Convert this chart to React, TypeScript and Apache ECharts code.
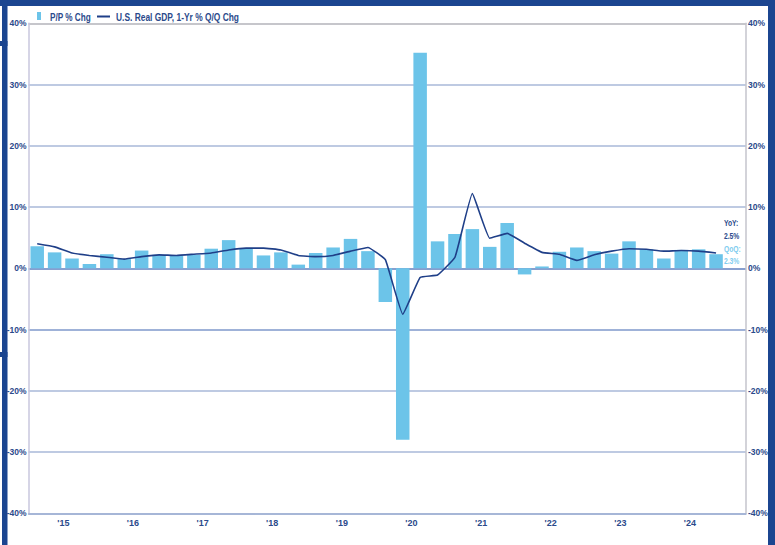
import React, { useEffect, useRef } from "react";
import * as echarts from "echarts";

const years = ["'15", "'16", "'17", "'18", "'19", "'20", "'21", "'22", "'23", "'24"];
const quarterNames = ["Q1", "Q2", "Q3", "Q4"];
const quarters: string[] = [];
for (let y = 2015; y <= 2024; y++) for (const q of quarterNames) quarters.push(`${q} ${y}`);

const qoqChg = [
  3.6, 2.6, 1.6, 0.7, 2.3, 1.5, 2.9, 2.2, 2.1, 2.2, 3.2, 4.6, 3.2, 2.1, 2.6, 0.6,
  2.5, 3.4, 4.8, 2.8, -5.5, -28.0, 35.2, 4.4, 5.6, 6.4, 3.5, 7.4, -1.0, 0.3, 2.7, 3.4,
  2.8, 2.4, 4.4, 3.1, 1.6, 3.0, 3.1, 2.3,
];
const yoyChg = [
  4.0, 3.5, 2.5, 2.1, 1.8, 1.5, 1.9, 2.2, 2.1, 2.3, 2.5, 3.0, 3.3, 3.3, 3.0, 2.1,
  1.9, 2.1, 2.8, 3.4, 1.4, -7.5, -1.5, -1.1, 1.8, 12.2, 4.9, 5.7, 4.1, 2.6, 2.3, 1.3,
  2.2, 2.8, 3.2, 3.1, 2.8, 2.9, 2.8, 2.5,
];
const yTicks = [-40, -30, -20, -10, 0, 10, 20, 30, 40];

const FONT = "'Liberation Sans Narrow', 'Arial Narrow', 'Liberation Sans', Arial, sans-serif";
const NAVY = "#2b4a8b";
const BAR = "#6cc4e9";
const LIGHT = "#7fcdef";
const LINE = "#1f3f88";
const FRAME = "#1b4590";

export default function App() {
  const ref = useRef<HTMLDivElement>(null);
  useEffect(() => {
    document.body.style.margin = "0";
    if (!ref.current) return;
    const chart = echarts.init(ref.current, undefined, { renderer: "svg" });
    const splitColors = yTicks.map((t) =>
      t === 40 ? "#b3b3ba" : t === 0 ? "#5f7fbf" : t === -10 ? "#7f98cb" : "#a9b8d9"
    );
    const lastYoY = yoyChg[yoyChg.length - 1];
    const lastQoQ = qoqChg[qoqChg.length - 1];
    const labelStyle = { color: NAVY, fontFamily: FONT, fontWeight: "bold" as const, fontSize: 8.5 };
    const barData = qoqChg.map((v, i) => ({ value: [i + 0.5, v], name: quarters[i] }));
    const lineData = yoyChg.map((v, i) => ({ value: [i + 0.5, v], name: quarters[i] }));
    const txt = (x: number, y: number, text: string, fill: string, size: number, sx: number) => ({
      type: "text",
      x,
      y,
      scaleX: sx,
      style: { text, fill, font: `bold ${size}px ${FONT}`, textVerticalAlign: "middle" },
      silent: true,
    });
    chart.setOption({
      animation: false,
      backgroundColor: "#ffffff",
      grid: { left: 28.5, right: 29, top: 23.3, bottom: 31.7, containLabel: false },
      xAxis: {
        type: "value",
        min: 0,
        max: 41.22,
        interval: 2,
        axisLine: { show: true, onZero: false, lineStyle: { color: "#9fb0d3", width: 1.5 } },
        axisTick: { show: false },
        splitLine: { show: false },
        axisLabel: {
          ...labelStyle,
          fontSize: 9,
          margin: 5,
          showMinLabel: true,
          showMaxLabel: true,
          formatter: (v: number) => (v % 4 === 2 && years[(v - 2) / 4] ? years[(v - 2) / 4] : ""),
        },
      },
      yAxis: [
        {
          type: "value",
          min: -40,
          max: 40,
          interval: 10,
          axisLine: { show: true, lineStyle: { color: "#c9c7de", width: 1.5 } },
          axisTick: { show: false },
          axisLabel: { ...labelStyle, margin: 2, formatter: "{value}%" },
          splitLine: { show: true, lineStyle: { color: splitColors, width: 1.5 } },
        },
        {
          type: "value",
          min: -40,
          max: 40,
          interval: 10,
          position: "right",
          axisLine: { show: true, lineStyle: { color: "#c4c4cc", width: 1.5 } },
          axisTick: { show: false },
          axisLabel: { ...labelStyle, margin: 2, formatter: "{value}%" },
          splitLine: { show: false },
        },
      ],
      series: [
        {
          name: "P/P % Chg",
          type: "bar",
          yAxisIndex: 0,
          data: barData,
          barWidth: 13.5,
          itemStyle: { color: BAR },
        },
        {
          name: "U.S. Real GDP, 1-Yr % Q/Q Chg",
          type: "line",
          yAxisIndex: 0,
          data: lineData,
          symbol: "none",
          smooth: 0.1,
          lineStyle: { color: LINE, width: 1.6 },
          z: 5,
        },
      ],
      graphic: [
        { type: "rect", shape: { x: 0, y: 0, width: 775, height: 6 }, style: { fill: FRAME }, silent: true },
        { type: "rect", shape: { x: 2, y: 0, width: 5.5, height: 545 }, style: { fill: FRAME }, silent: true },
        { type: "rect", shape: { x: 0, y: 41, width: 7.5, height: 5 }, style: { fill: FRAME }, silent: true },
        { type: "rect", shape: { x: 0, y: 352, width: 7.5, height: 5 }, style: { fill: FRAME }, silent: true },
        { type: "rect", shape: { x: 768, y: 0, width: 7, height: 545 }, style: { fill: FRAME }, silent: true },
        // legend
        { type: "rect", shape: { x: 37, y: 12, width: 4, height: 8 }, style: { fill: BAR }, silent: true },
        txt(50, 17, "P/P % Chg", NAVY, 10.5, 0.78),
        { type: "line", shape: { x1: 97, y1: 16.5, x2: 110, y2: 16.5 }, style: { stroke: LINE, lineWidth: 2 }, silent: true },
        txt(116, 17, "U.S. Real GDP, 1-Yr % Q/Q Chg", NAVY, 10.5, 0.8),
        // annotation
        txt(724, 223, "YoY:", NAVY, 9, 0.75),
        txt(724, 236, `${lastYoY.toFixed(1)}%`, NAVY, 9, 0.75),
        txt(724, 249, "QoQ:", LIGHT, 9, 0.75),
        txt(724, 261, `${lastQoQ.toFixed(1)}%`, LIGHT, 9, 0.75),
      ],
    });
    return () => chart.dispose();
  }, []);
  return <div ref={ref} style={{ width: 775, height: 545 }} />;
}
